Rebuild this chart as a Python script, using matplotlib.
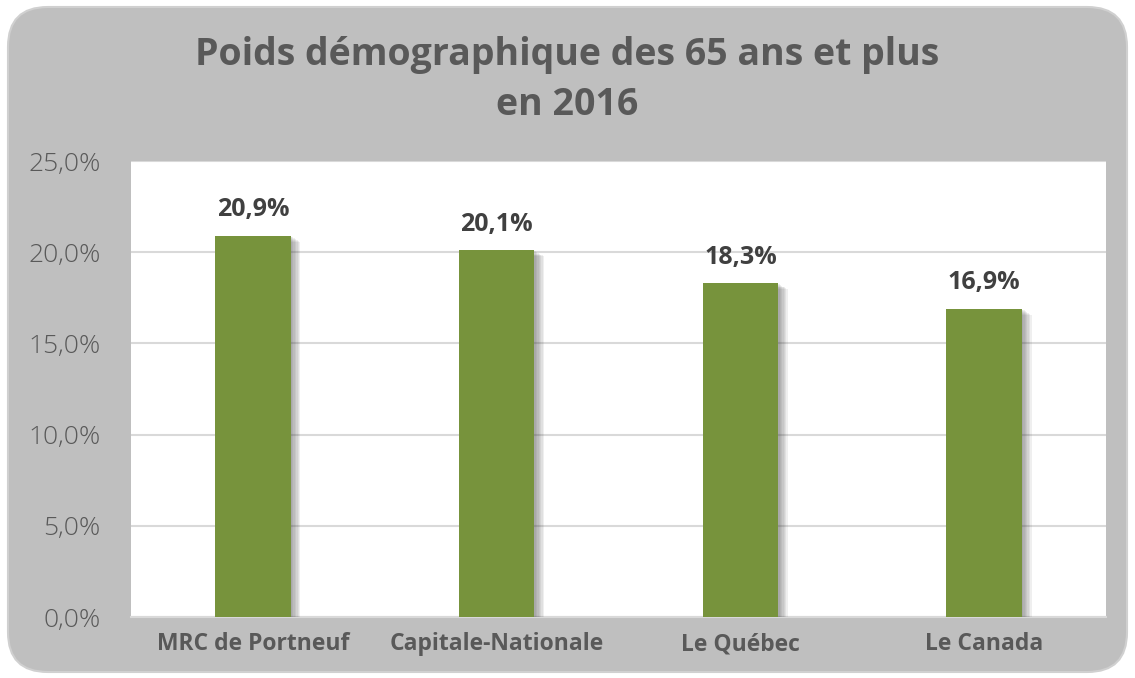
import matplotlib
matplotlib.use("Agg")
import matplotlib.pyplot as plt
import matplotlib.patheffects as pe
from matplotlib.patches import FancyBboxPatch
from matplotlib.ticker import FuncFormatter

regions = ["MRC de Portneuf", "Capitale-Nationale", "Le Québec", "Le Canada"]
share_65plus = [20.9, 20.1, 18.3, 16.9]
y_ticks = [0, 5, 10, 15, 20, 25]
title = "Poids démographique des 65 ans et plus\nen 2016"

plt.rcParams["font.family"] = ["Open Sans", "DejaVu Sans"]
text_grey = "#595959"
bar_green = "#77933C"

fig = plt.figure(figsize=(11.35, 6.78), dpi=100, facecolor="white")

# rounded grey frame behind everything
frame = FancyBboxPatch((8 / 1135, 6 / 678), 1119 / 1135, 665 / 678,
                       boxstyle="round,pad=0,rounding_size=0.035",
                       transform=fig.transFigure, facecolor="#BFBFBF",
                       edgecolor="#D0D0D0", linewidth=1.5, zorder=-5,
                       mutation_aspect=1135 / 678)
fig.patches.append(frame)

ax = fig.add_axes([131 / 1135, 1 - 617 / 678, (1106 - 131) / 1135, (617 - 161) / 678])
ax.set_zorder(1)
ax.set_facecolor("white")

x = range(len(regions))
bars = ax.bar(x, share_65plus, width=0.31, color=bar_green, zorder=3)
# soft shadow: stack of faint offset copies
soft = [pe.SimplePatchShadow(offset=(d, -d * 0.6), shadow_rgbFace="#505050", alpha=0.09)
        for d in range(1, 8)]
for b in bars:
    b.set_path_effects(soft + [pe.Normal()])

for xi, v in zip(x, share_65plus):
    ax.text(xi, v + 0.75, f"{v:.1f}%".replace(".", ","), ha="center", va="bottom",
            fontsize=18, fontweight="bold", color="#404040", zorder=4)

ax.set_ylim(0, 25)
ax.set_xlim(-0.5, len(regions) - 0.5)
ax.set_yticks(y_ticks)
ax.yaxis.set_major_formatter(FuncFormatter(lambda v, p: f"{v:.1f}%".replace(".", ",")))
ax.grid(axis="y", color="#D9D9D9", linewidth=1.5, zorder=0)
ax.set_axisbelow(True)
ax.set_xticks(list(x))
ax.set_xticklabels(regions, fontsize=16.5, fontweight="bold", color=text_grey)
ax.tick_params(axis="y", length=0, pad=22, labelsize=19, labelcolor=text_grey)
ax.tick_params(axis="x", length=0, pad=11)
for lbl in ax.get_yticklabels():
    lbl.set_fontweight("light")
for s in ["left", "right", "top"]:
    ax.spines[s].set_visible(False)
ax.spines["bottom"].set_color("#D9D9D9")
ax.spines["bottom"].set_linewidth(1.5)

fig.text(0.5, 1 - 80 / 678, title, ha="center", va="center", fontsize=27,
         fontweight="bold", color=text_grey, linespacing=1.4)

fig.savefig("out.png", dpi=100, facecolor="white")
